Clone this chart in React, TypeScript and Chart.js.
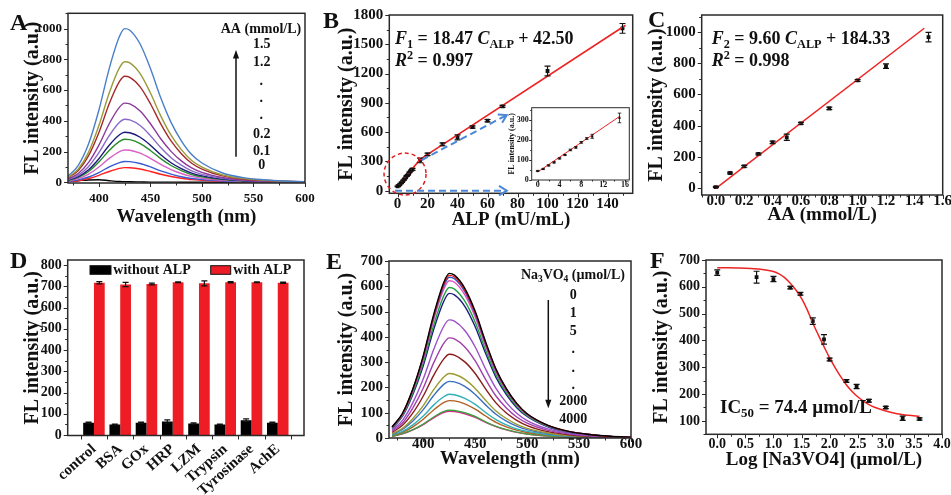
import React, { useEffect, useRef } from 'react';
import { Chart, registerables } from 'chart.js';

Chart.register(...registerables);

const SERIF = '"Liberation Serif", "Times New Roman", serif';

// ---------------- Panel A : emission spectra vs AA ----------------
const wavelengths = [370, 380, 390, 400, 410, 420, 425, 430, 440, 450, 460, 470, 480, 490, 500, 520, 540, 560, 580, 600];
const aaLegendValues = ['1.5', '1.2', '0.2', '0.1', '0'];
const aaColors = ['#4a7fc8', '#9a9a3a', '#a52a2a', '#8b3a9b', '#8a6ac8', '#1a1a7a', '#2a8a2a', '#d860c8', '#3a5ad0', '#ff2020', '#000000'];
const aaSpectra: number[][] = [
  [40, 110, 250, 470, 740, 950, 1000, 990, 900, 740, 550, 390, 270, 180, 125, 60, 30, 16, 8, 4],
  [31, 86, 196, 369, 581, 746, 785, 777, 707, 581, 432, 306, 212, 141, 98, 47, 24, 13, 6, 3],
  [28, 76, 173, 324, 511, 656, 690, 683, 621, 511, 380, 269, 186, 124, 86, 41, 21, 11, 6, 3],
  [21, 57, 129, 242, 381, 489, 515, 510, 464, 381, 283, 201, 139, 93, 64, 31, 15, 8, 4, 2],
  [16, 45, 103, 193, 303, 390, 410, 406, 369, 303, 226, 160, 111, 74, 51, 25, 12, 7, 3, 2],
  [13, 36, 81, 153, 241, 309, 325, 322, 293, 241, 179, 127, 88, 59, 41, 20, 10, 5, 3, 1],
  [11, 31, 70, 132, 207, 266, 280, 277, 252, 207, 154, 109, 76, 50, 35, 17, 8, 4, 2, 1],
  [8, 23, 53, 99, 155, 200, 210, 208, 189, 155, 116, 82, 57, 38, 26, 13, 6, 3, 2, 1],
  [5, 15, 34, 63, 100, 128, 135, 134, 122, 100, 74, 53, 36, 24, 17, 8, 4, 2, 1, 1],
  [4, 10, 24, 45, 70, 90, 95, 94, 86, 70, 52, 37, 26, 17, 12, 6, 3, 2, 1, 0],
  [5, 10, 15, 16, 10, 5, 4, 3, 2, 1, 1, 1, 0, 0, 0, 0, 0, 0, 0, 0],
];
const aYTicks = [0, 200, 400, 600, 800, 1000];
const aXTicks = [400, 450, 500, 550, 600];

// ---------------- Panel B : ALP calibration ----------------
const alpConc = [0, 1, 2, 3, 4, 5, 6, 7, 8, 9, 10, 15, 20, 30, 40, 50, 60, 70, 100, 150];
const alpFL = [45, 55, 73, 88, 108, 125, 150, 163, 188, 207, 218, 310, 372, 475, 546, 652, 717, 864, 1226, 1663];
const alpErr = [3, 3, 3, 3, 3, 3, 4, 4, 4, 4, 10, 24, 12, 15, 25, 12, 12, 10, 50, 50];
const alpFitX = [0, 15, 152];
const alpFitY = [40, 320, 1695];
const alpInsetFitX = [0, 15];
const alpInsetFitY = [40, 317];
const bYTicks = [0, 300, 600, 900, 1200, 1500, 1800];
const bXTicks = [0, 20, 40, 60, 80, 100, 120, 140];
const insetYTicks = [0, 100, 200, 300];
const insetXTicks = [0, 4, 8, 12, 16];

// ---------------- Panel C : AA calibration ----------------
const aaConc = [0, 0.1, 0.2, 0.3, 0.4, 0.5, 0.6, 0.8, 1.0, 1.2, 1.5];
const aaFL = [6, 96, 139, 218, 293, 325, 415, 511, 690, 782, 968];
const aaErr = [4, 6, 6, 6, 8, 20, 6, 8, 6, 15, 30];
const aaFitX = [0, 1.47];
const aaFitY = [-3, 1025];
const cYTicks = [0, 200, 400, 600, 800, 1000];
const cXTicks = [0, 0.2, 0.4, 0.6, 0.8, 1.0, 1.2, 1.4, 1.6];

// ---------------- Panel D : selectivity ----------------
const dCategories = ['control', 'BSA', 'GOx', 'HRP', 'LZM', 'Trypsin', 'Tyrosinase', 'AchE'];
const dWithout = [58, 50, 58, 64, 55, 50, 70, 58];
const dWithoutErr = [3, 2, 3, 8, 3, 2, 6, 3];
const dWith = [717, 709, 711, 719, 714, 719, 719, 717];
const dWithErr = [5, 10, 4, 2, 12, 3, 2, 3];
const dYTicks = [0, 100, 200, 300, 400, 500, 600, 700, 800];

// ---------------- Panel E : spectra vs Na3VO4 ----------------
const naLegendValues = ['0', '1', '5', '2000', '4000'];
const naColors = ['#000000', '#e41a1c', '#3050c0', '#e050c0', '#20a040', '#1c1c80', '#9a50c8', '#a040a8', '#8b1a1a', '#9a9a30', '#3a70c0', '#30b0b8', '#b06020', '#40a040', '#e02090'];
const naSpectra: number[][] = [
  [44, 98, 195, 326, 488, 618, 651, 644, 592, 501, 381, 273, 195, 137, 96, 50, 26, 14, 7, 3],
  [43, 96, 193, 322, 482, 611, 643, 637, 585, 495, 376, 270, 193, 135, 95, 50, 26, 14, 6, 3],
  [43, 95, 191, 318, 477, 604, 636, 630, 579, 490, 372, 267, 191, 134, 94, 49, 25, 14, 6, 3],
  [42, 93, 187, 311, 467, 591, 622, 616, 566, 479, 364, 261, 187, 131, 92, 48, 25, 14, 6, 3],
  [40, 89, 179, 298, 446, 565, 595, 589, 541, 458, 348, 250, 179, 125, 88, 46, 24, 13, 6, 3],
  [38, 86, 172, 286, 429, 543, 572, 566, 521, 440, 335, 240, 172, 120, 85, 44, 23, 13, 6, 3],
  [31, 70, 140, 234, 350, 444, 467, 462, 425, 360, 273, 196, 140, 98, 69, 36, 19, 10, 5, 2],
  [27, 59, 119, 198, 297, 376, 396, 392, 360, 305, 232, 166, 119, 83, 59, 30, 16, 9, 4, 2],
  [22, 50, 99, 166, 248, 314, 331, 328, 301, 255, 194, 139, 99, 70, 49, 25, 13, 7, 3, 2],
  [17, 38, 77, 128, 191, 242, 255, 252, 232, 196, 149, 107, 77, 54, 38, 20, 10, 6, 3, 1],
  [15, 34, 67, 112, 168, 213, 224, 222, 204, 172, 131, 94, 67, 47, 33, 17, 9, 5, 2, 1],
  [12, 26, 52, 87, 130, 164, 173, 171, 157, 133, 101, 73, 52, 36, 26, 13, 7, 4, 2, 1],
  [10, 22, 44, 74, 111, 141, 148, 147, 135, 114, 87, 62, 44, 31, 22, 11, 6, 3, 1, 1],
  [7, 17, 33, 55, 83, 105, 110, 109, 100, 85, 64, 46, 33, 23, 16, 8, 4, 2, 1, 1],
  [7, 16, 32, 53, 80, 101, 106, 105, 96, 82, 62, 45, 32, 22, 16, 8, 4, 2, 1, 1],
];
const eYTicks = [0, 100, 200, 300, 400, 500, 600, 700];
const eXTicks = [400, 450, 500, 550, 600];

// ---------------- Panel F : inhibition ----------------
const logNa = [0, 0.7, 1.0, 1.3, 1.48, 1.7, 1.9, 2.0, 2.3, 2.48, 2.7, 3.0, 3.3, 3.6];
const naFL = [653, 636, 629, 597, 574, 472, 404, 329, 249, 228, 175, 150, 110, 107];
const naErr = [10, 22, 10, 5, 5, 12, 18, 5, 5, 8, 5, 4, 8, 4];
const fitLogX = [0, 0.2, 0.4, 0.6, 0.8, 1.0, 1.1, 1.2, 1.3, 1.4, 1.5, 1.6, 1.7, 1.8, 1.9, 2.0, 2.1, 2.2, 2.3, 2.4, 2.5, 2.6, 2.7, 2.8, 3.0, 3.2, 3.4, 3.6];
const fitLogY = [671, 671, 670, 668, 665, 657, 648, 634, 613, 588, 557, 515, 465, 420, 377, 335, 298, 264, 234, 210, 190, 174, 161, 151, 137, 127, 121, 117];
const fYTicks = [100, 200, 300, 400, 500, 600, 700];
const fXTicks = [0, 0.5, 1.0, 1.5, 2.0, 2.5, 3.0, 3.5, 4.0];

// ---------------- helpers ----------------
const xy = (xs: number[], ys: number[]) => xs.map((x, i) => ({ x, y: ys[i] }));

type Run = { t: string; it?: boolean; sub?: boolean; sup?: boolean };

interface AxisSpec {
  min?: number; max?: number;
  ticks?: number[];
  minor?: number;
  fmt?: (v: number) => string;
  size: number;
  pad: number;
  title?: string;
  titleSize?: number;
  titleC?: number;
  category?: boolean;
  rot?: number;
}

interface Note {
  kind: 'text' | 'arrow' | 'ellipse' | 'rect';
  space: 'area' | 'canvas' | 'data';
  x?: number; y?: number; x2?: number; y2?: number;
  w?: number; h?: number;
  runs?: Run[]; size?: number; align?: 'left' | 'center' | 'right';
  color?: string; width?: number; dash?: number[]; head?: 'fill' | 'open';
}

interface PanelSpec {
  key: string;
  box: { x: number; y: number; w: number; h: number };
  area: { l: number; t: number; r: number; b: number };
  type: 'line' | 'scatter' | 'bar';
  labels?: string[];
  datasets: any[];
  x: AxisSpec; y: AxisSpec;
  notes: Note[];
  errors?: { ds: number; err: (number | null)[]; cap: number; width: number }[];
  xMarks?: { v: number; major: boolean }[];
  white?: boolean;
  frameW: number;
  tick: [number, number];
}

const T = (t: string, extra: Partial<Run> = {}): Run => ({ t, ...extra });

function fontStr(size: number, italic?: boolean) {
  return `${italic ? 'italic ' : ''}bold ${size}px ${SERIF}`;
}

function drawRuns(ctx: CanvasRenderingContext2D, runs: Run[], x: number, y: number, size: number, align: string, color: string) {
  const sizes = runs.map(r => (r.sub || r.sup ? size * 0.68 : size));
  const widths = runs.map((r, i) => { ctx.font = fontStr(sizes[i], r.it); return ctx.measureText(r.t).width; });
  const total = widths.reduce((a, b) => a + b, 0);
  let cx = align === 'center' ? x - total / 2 : align === 'right' ? x - total : x;
  ctx.fillStyle = color;
  ctx.textBaseline = 'middle';
  ctx.textAlign = 'left';
  runs.forEach((r, i) => {
    ctx.font = fontStr(sizes[i], r.it);
    const dy = r.sub ? size * 0.3 : r.sup ? -size * 0.3 : 0;
    ctx.fillText(r.t, cx, y + dy);
    cx += widths[i];
  });
}

function drawArrow(ctx: CanvasRenderingContext2D, x1: number, y1: number, x2: number, y2: number, color: string, width: number, dash: number[] | undefined, head: string) {
  ctx.save();
  ctx.strokeStyle = color; ctx.fillStyle = color; ctx.lineWidth = width;
  const ang = Math.atan2(y2 - y1, x2 - x1);
  const hl = 9;
  const ex = head === 'fill' ? x2 - Math.cos(ang) * hl * 0.8 : x2;
  const ey = head === 'fill' ? y2 - Math.sin(ang) * hl * 0.8 : y2;
  ctx.setLineDash(dash || []);
  ctx.beginPath(); ctx.moveTo(x1, y1); ctx.lineTo(ex, ey); ctx.stroke();
  ctx.setLineDash([]);
  if (head === 'fill') {
    ctx.beginPath();
    ctx.moveTo(x2, y2);
    ctx.lineTo(x2 - Math.cos(ang - 0.35) * hl, y2 - Math.sin(ang - 0.35) * hl);
    ctx.lineTo(x2 - Math.cos(ang + 0.35) * hl, y2 - Math.sin(ang + 0.35) * hl);
    ctx.closePath(); ctx.fill();
  } else {
    ctx.beginPath();
    ctx.moveTo(x2 - Math.cos(ang - 0.55) * hl, y2 - Math.sin(ang - 0.55) * hl);
    ctx.lineTo(x2, y2);
    ctx.lineTo(x2 - Math.cos(ang + 0.55) * hl, y2 - Math.sin(ang + 0.55) * hl);
    ctx.stroke();
  }
  ctx.restore();
}

function axisMarks(ax: AxisSpec) {
  const out: { v: number; major: boolean }[] = [];
  if (!ax.minor || ax.min === undefined || ax.max === undefined) return out;
  const step = ax.minor;
  const start = Math.ceil(ax.min / step - 1e-9);
  const end = Math.floor(ax.max / step + 1e-9);
  for (let k = start; k <= end; k++) {
    const v = k * step;
    const major = (ax.ticks || []).some(t => Math.abs(t - v) < step * 1e-3);
    out.push({ v, major });
  }
  return out;
}

function axisOptions(ax: AxisSpec, isX: boolean, p: PanelSpec) {
  const { box, area } = p;
  const o: any = {
    type: ax.category ? 'category' : 'linear',
    offset: false,
    grid: { display: false, drawTicks: false },
    border: { display: false },
    ticks: {
      color: '#111',
      font: { family: SERIF, weight: 'bold', size: ax.size },
      padding: ax.pad,
      autoSkip: false,
      maxRotation: ax.rot || 0,
      minRotation: ax.rot || 0,
    },
    afterFit: (s: any) => {
      if (isX) s.height = box.y + box.h - area.b;
      else s.width = area.l - box.x;
      s.paddingLeft = 0; s.paddingRight = 0; s.paddingTop = 0; s.paddingBottom = 0;
    },
  };
  if (!ax.category) {
    o.min = ax.min; o.max = ax.max;
    const vals = ax.ticks || [];
    o.afterBuildTicks = (s: any) => { s.ticks = vals.map(v => ({ value: v })); };
    o.ticks.callback = (v: any) => (ax.fmt ? ax.fmt(Number(v)) : String(v));
  }
  if (ax.title) {
    const lh = (ax.titleSize || 18) * 1.2;
    const pad = isX ? { top: 0, bottom: box.y + box.h - (ax.titleC || 0) - lh / 2 } : { top: (ax.titleC || 0) - box.x - lh / 2, bottom: 0 };
    o.title = { display: true, text: ax.title, color: '#111', padding: pad, font: { family: SERIF, weight: 'bold', size: ax.titleSize } };
  } else {
    o.title = { display: false };
  }
  return o;
}

function buildConfig(p: PanelSpec): any {
  const { box, area } = p;
  const xMarks = p.xMarks || axisMarks(p.x);
  const yMarks = axisMarks(p.y);

  const bgPlugin = {
    id: 'bgfill',
    beforeDatasetsDraw(chart: any) {
      if (!p.white) return;
      const a = chart.chartArea;
      chart.ctx.save();
      chart.ctx.fillStyle = '#ffffff';
      chart.ctx.fillRect(a.left, a.top, a.right - a.left, a.bottom - a.top);
      chart.ctx.restore();
    },
  };

  const errPlugin = {
    id: 'errbars',
    afterDatasetsDraw(chart: any) {
      const ctx = chart.ctx as CanvasRenderingContext2D;
      const ys = chart.scales.y;
      (p.errors || []).forEach(e => {
        const meta = chart.getDatasetMeta(e.ds);
        const raw = chart.data.datasets[e.ds].data as any[];
        meta.data.forEach((el: any, j: number) => {
          const err = e.err[j];
          const r = raw[j];
          const v = typeof r === 'number' ? r : r && r.y;
          if (!err || v === null || v === undefined) return;
          const x = el.x;
          const y1 = ys.getPixelForValue(v + err);
          const y2 = ys.getPixelForValue(v - err);
          ctx.save();
          ctx.strokeStyle = '#111'; ctx.lineWidth = e.width;
          ctx.beginPath();
          ctx.moveTo(x, y1); ctx.lineTo(x, y2);
          ctx.moveTo(x - e.cap, y1); ctx.lineTo(x + e.cap, y1);
          ctx.moveTo(x - e.cap, y2); ctx.lineTo(x + e.cap, y2);
          ctx.stroke();
          ctx.restore();
        });
      });
    },
  };

  const framePlugin = {
    id: 'frame',
    afterDraw(chart: any) {
      const ctx = chart.ctx as CanvasRenderingContext2D;
      const a = chart.chartArea;
      const xs = chart.scales.x, ys = chart.scales.y;
      ctx.save();
      ctx.strokeStyle = '#2a2a2a';
      ctx.lineWidth = 1;
      ctx.beginPath();
      xMarks.forEach(m => {
        const px = Math.round(xs.getPixelForValue(m.v)) + 0.5;
        ctx.moveTo(px, a.bottom); ctx.lineTo(px, a.bottom + (m.major ? p.tick[0] : p.tick[1]));
      });
      yMarks.forEach(m => {
        const py = Math.round(ys.getPixelForValue(m.v)) + 0.5;
        ctx.moveTo(a.left, py); ctx.lineTo(a.left - (m.major ? p.tick[0] : p.tick[1]), py);
      });
      ctx.stroke();
      ctx.lineWidth = p.frameW;
      ctx.strokeRect(a.left, a.top, a.right - a.left, a.bottom - a.top);
      ctx.restore();
    },
  };

  const notesPlugin = {
    id: 'notes',
    afterDraw(chart: any) {
      const ctx = chart.ctx as CanvasRenderingContext2D;
      const a = chart.chartArea;
      const sc = chart.scales;
      const pt = (space: string, x: number, y: number): [number, number] =>
        space === 'data' ? [sc.x.getPixelForValue(x), sc.y.getPixelForValue(y)]
          : space === 'area' ? [a.left + x, a.top + y] : [x, y];
      p.notes.forEach(n => {
        ctx.save();
        if (n.kind === 'text') {
          const [px, py] = pt(n.space, n.x || 0, n.y || 0);
          drawRuns(ctx, n.runs || [], px, py, n.size || 14, n.align || 'left', n.color || '#111');
        } else if (n.kind === 'arrow') {
          const [x1, y1] = pt(n.space, n.x || 0, n.y || 0);
          const [x2, y2] = pt(n.space, n.x2 || 0, n.y2 || 0);
          drawArrow(ctx, x1, y1, x2, y2, n.color || '#111', n.width || 1.5, n.dash, n.head || 'fill');
        } else if (n.kind === 'ellipse') {
          const [cx, cy] = pt(n.space, n.x || 0, n.y || 0);
          const [ex, ey] = pt(n.space, (n.x || 0) + (n.w || 0), (n.y || 0) + (n.h || 0));
          ctx.strokeStyle = n.color || '#e02020'; ctx.lineWidth = n.width || 1.5;
          ctx.setLineDash(n.dash || []);
          ctx.beginPath();
          ctx.ellipse(cx, cy, Math.abs(ex - cx), Math.abs(ey - cy), 0, 0, Math.PI * 2);
          ctx.stroke();
        } else if (n.kind === 'rect') {
          const [x1, y1] = pt(n.space, n.x || 0, n.y || 0);
          ctx.fillStyle = n.color || '#000';
          ctx.fillRect(x1, y1, n.w || 0, n.h || 0);
          ctx.strokeStyle = '#111'; ctx.lineWidth = 1;
          ctx.strokeRect(x1, y1, n.w || 0, n.h || 0);
        }
        ctx.restore();
      });
    },
  };

  return {
    type: p.type,
    data: { labels: p.labels, datasets: p.datasets },
    options: {
      responsive: false,
      maintainAspectRatio: false,
      animation: false,
      devicePixelRatio: 1,
      events: [],
      layout: {
        autoPadding: false,
        padding: { left: 0, bottom: 0, top: area.t - box.y, right: box.x + box.w - area.r },
      },
      plugins: { legend: { display: false }, tooltip: { enabled: false } },
      scales: { x: axisOptions(p.x, true, p), y: axisOptions(p.y, false, p) },
    },
    plugins: [bgPlugin, errPlugin, framePlugin, notesPlugin],
  };
}

const spectrumSets = (curves: number[][], colors: string[]) =>
  curves.map((c, i) => ({
    data: xy(wavelengths, c),
    borderColor: colors[i],
    borderWidth: 1.4,
    pointRadius: 0,
    fill: false,
    cubicInterpolationMode: 'monotone',
  }));

const pointSet = (xs: number[], ys: number[], r: number) => ({
  data: xy(xs, ys),
  showLine: false,
  pointStyle: 'rect',
  pointRadius: r,
  backgroundColor: '#111',
  borderColor: '#111',
  borderWidth: 0,
});

const fitSet = (xs: number[], ys: number[], w: number, smooth = false) => ({
  data: xy(xs, ys),
  showLine: true,
  borderColor: '#ee2424',
  borderWidth: w,
  pointRadius: 0,
  fill: false,
  cubicInterpolationMode: smooth ? 'monotone' : 'default',
});

const letter = (t: string, x: number, y: number): Note => ({ kind: 'text', space: 'canvas', x, y, runs: [T(t)], size: 24 });
const txt = (t: string, x: number, y: number, size = 14, align: 'left' | 'center' = 'center'): Note => ({ kind: 'text', space: 'area', x, y, runs: [T(t)], size, align });

const fmt1 = (v: number) => v.toFixed(1);

const PANELS: PanelSpec[] = [
  // ---- A ----
  {
    key: 'A', type: 'line', frameW: 1.5, tick: [4, 2.5],
    box: { x: 0, y: 0, w: 318, h: 245 },
    area: { l: 68, t: 13.3, r: 305, b: 183 },
    datasets: spectrumSets(aaSpectra, aaColors),
    x: { min: 370, max: 600, ticks: aXTicks, minor: 25, size: 13, pad: 8, title: 'Wavelength (nm)', titleSize: 19, titleC: 216.7 },
    y: { min: -5, max: 1100, ticks: aYTicks, minor: 100, size: 13, pad: 6, title: 'FL intensity (a.u.)', titleSize: 20, titleC: 33.3 },
    notes: [
      letter('A', 10, 23.3),
      txt('AA (mmol/L)', 193, 16),
      txt(aaLegendValues[0], 193.7, 31),
      txt(aaLegendValues[1], 193.7, 49.4),
      txt('.', 193.2, 68),
      txt('.', 193.2, 84.7),
      txt('.', 193.2, 102),
      txt(aaLegendValues[2], 193.7, 121),
      txt(aaLegendValues[3], 193.7, 138.4),
      txt(aaLegendValues[4], 193.7, 152.4),
      { kind: 'arrow', space: 'area', x: 168, y: 143.4, x2: 168, y2: 36.7, color: '#111', width: 1.5, head: 'fill' },
    ],
  },
  // ---- B ----
  {
    key: 'B', type: 'scatter', frameW: 1.5, tick: [4, 2.5],
    box: { x: 318, y: 0, w: 320, h: 245 },
    area: { l: 389.3, t: 15, r: 632.7, b: 193.3 },
    datasets: [fitSet(alpFitX, alpFitY, 1.6), pointSet(alpConc, alpFL, 2.7)],
    errors: [{ ds: 1, err: alpErr, cap: 3, width: 1.2 }],
    x: { min: -5.5, max: 156.8, ticks: bXTicks, minor: 10, size: 15, pad: 2, title: 'ALP (mU/mL)', titleSize: 19, titleC: 220 },
    y: { min: -27, max: 1800, ticks: bYTicks, minor: 150, size: 15, pad: 6, title: 'FL intensity (a.u.)', titleSize: 20, titleC: 346.7 },
    notes: [
      letter('B', 5, 21.7),
      { kind: 'text', space: 'area', x: 5.7, y: 24.3, size: 18, align: 'left', runs: [T('F', { it: true }), T('1', { sub: true }), T(' = 18.47 '), T('C', { it: true }), T('ALP', { sub: true }), T(' + 42.50')] },
      { kind: 'text', space: 'area', x: 5.7, y: 46.7, size: 18, align: 'left', runs: [T('R', { it: true }), T('2', { sup: true }), T(' = 0.997')] },
      { kind: 'ellipse', space: 'data', x: 5, y: 170, w: 14, h: 215, color: '#e02020', width: 1.5, dash: [4, 3] },
      { kind: 'arrow', space: 'data', x: 16.1, y: 314, x2: 72.8, y2: 775, color: '#4a86d8', width: 2, dash: [7, 4], head: 'open' },
      { kind: 'arrow', space: 'data', x: -1.7, y: 0, x2: 72.8, y2: 0, color: '#4a86d8', width: 2, dash: [7, 4], head: 'open' },
    ],
  },
  // ---- B inset ----
  {
    key: 'Binset', type: 'scatter', frameW: 1, tick: [2.5, 1.5], white: true,
    box: { x: 490, y: 95, w: 145, h: 100 },
    area: { l: 531.7, t: 107.7, r: 629.3, b: 180 },
    datasets: [fitSet(alpInsetFitX, alpInsetFitY, 1), pointSet(alpConc.slice(0, 12), alpFL.slice(0, 12), 1.5)],
    errors: [{ ds: 1, err: alpErr.slice(0, 12), cap: 1.8, width: 0.8 }],
    x: { min: -1.1, max: 16.8, ticks: insetXTicks, minor: 2, size: 8, pad: 0.5 },
    y: { min: 0, max: 361, ticks: insetYTicks, minor: 50, size: 8, pad: 3, title: 'FL intensity (a.u.)', titleSize: 8, titleC: 511.7 },
    notes: [],
  },
  // ---- C ----
  {
    key: 'C', type: 'scatter', frameW: 1.5, tick: [4, 2.5],
    box: { x: 638, y: 0, w: 313, h: 245 },
    area: { l: 701.7, t: 15, r: 942.7, b: 195 },
    datasets: [fitSet(aaFitX, aaFitY, 1.5), pointSet(aaConc, aaFL, 2.7)],
    errors: [{ ds: 1, err: aaErr, cap: 3, width: 1.2 }],
    x: { min: -0.1, max: 1.6, ticks: cXTicks, minor: 0.1, size: 15, pad: -3, fmt: fmt1, title: 'AA (mmol/L)', titleSize: 19, titleC: 215 },
    y: { min: -45, max: 1110, ticks: cYTicks, minor: 100, size: 15, pad: 6, title: 'FL intensity (a.u.)', titleSize: 20, titleC: 656.7 },
    notes: [
      letter('C', 10, 20.7),
      { kind: 'text', space: 'area', x: 10, y: 24, size: 18, align: 'left', runs: [T('F', { it: true }), T('2', { sub: true }), T(' = 9.60 '), T('C', { it: true }), T('ALP', { sub: true }), T(' + 184.33')] },
      { kind: 'text', space: 'area', x: 10, y: 46.7, size: 18, align: 'left', runs: [T('R', { it: true }), T('2', { sup: true }), T(' = 0.998')] },
    ],
  },
  // ---- D ----
  {
    key: 'D', type: 'bar', frameW: 1.5, tick: [4, 2.5],
    box: { x: 0, y: 245, w: 318, h: 250 },
    area: { l: 67.7, t: 260, r: 304, b: 435.5 },
    labels: ['', ...dCategories, ''],
    datasets: [
      { label: 'without ALP', data: [null, ...dWithout, null], backgroundColor: '#000000', categoryPercentage: 0.82, barPercentage: 1 },
      { label: 'with ALP', data: [null, ...dWith, null], backgroundColor: '#ee1c25', categoryPercentage: 0.82, barPercentage: 1 },
    ],
    errors: [
      { ds: 0, err: [null, ...dWithoutErr, null], cap: 3, width: 1.2 },
      { ds: 1, err: [null, ...dWithErr, null], cap: 3, width: 1.2 },
    ],
    xMarks: dCategories.concat(['']).map((_, i) => ({ v: i + 0.5, major: true })),
    x: { category: true, size: 15, pad: 5, rot: 42 },
    y: { min: -2, max: 824, ticks: dYTicks, minor: 50, size: 14, pad: 6, title: 'FL intensity (a.u.)', titleSize: 20, titleC: 33.3 },
    notes: [
      letter('D', 10, 16.7),
      { kind: 'rect', space: 'area', x: 22.3, y: 5.7, w: 21, h: 8.6, color: '#000000' },
      txt('without ALP', 45.6, 10, 14, 'left'),
      { kind: 'rect', space: 'area', x: 143, y: 5.7, w: 20, h: 8.6, color: '#ee1c25' },
      txt('with ALP', 165.6, 10, 14, 'left'),
    ],
  },
  // ---- E ----
  {
    key: 'E', type: 'line', frameW: 1.5, tick: [4, 2.5],
    box: { x: 318, y: 245, w: 330, h: 250 },
    area: { l: 389, t: 261, r: 631, b: 438 },
    datasets: spectrumSets(naSpectra, naColors),
    x: { min: 367, max: 600, ticks: eXTicks, minor: 25, size: 15, pad: -3, title: 'Wavelength (nm)', titleSize: 19, titleC: 459 },
    y: { min: 0, max: 700, ticks: eYTicks, minor: 50, size: 15, pad: 6, title: 'FL intensity (a.u.)', titleSize: 20, titleC: 346.7 },
    notes: [
      letter('E', 8, 18),
      { kind: 'text', space: 'area', x: 184, y: 14, size: 14, align: 'center', runs: [T('Na'), T('3', { sub: true }), T('VO'), T('4', { sub: true }), T(' (µmol/L)')] },
      txt(naLegendValues[0], 184.3, 34.7),
      txt(naLegendValues[1], 184.3, 52),
      txt(naLegendValues[2], 184.3, 70),
      txt('.', 184.3, 88),
      txt('.', 184.3, 107),
      txt('.', 184.3, 124.7),
      txt(naLegendValues[3], 184.3, 140.7),
      txt(naLegendValues[4], 184.3, 158),
      { kind: 'arrow', space: 'area', x: 159.3, y: 39, x2: 159.3, y2: 147.3, color: '#111', width: 1.5, head: 'fill' },
    ],
  },
  // ---- F ----
  {
    key: 'F', type: 'scatter', frameW: 1.5, tick: [4, 2.5],
    box: { x: 638, y: 245, w: 313, h: 250 },
    area: { l: 706, t: 260, r: 942, b: 434.3 },
    datasets: [fitSet(fitLogX, fitLogY, 1.5, true), pointSet(logNa, naFL, 2.7)],
    errors: [{ ds: 1, err: naErr, cap: 3, width: 1.2 }],
    x: { min: -0.2, max: 4.0, ticks: fXTicks, minor: 0.25, size: 14, pad: 2, fmt: fmt1, title: 'Log [Na3VO4] (µmol/L)', titleSize: 19, titleC: 460 },
    y: { min: 50, max: 700, ticks: fYTicks, minor: 50, size: 14, pad: 6, title: 'FL intensity (a.u.)', titleSize: 20, titleC: 661.7 },
    notes: [
      letter('F', 12, 16.7),
      { kind: 'text', space: 'area', x: 14, y: 148, size: 19, align: 'left', runs: [T('IC'), T('50', { sub: true }), T(' = 74.4 µmol/L')] },
    ],
  },
];

export default function App() {
  const refs = useRef<(HTMLCanvasElement | null)[]>([]);
  useEffect(() => {
    const charts = PANELS.map((p, i) => new Chart(refs.current[i] as HTMLCanvasElement, buildConfig(p)));
    return () => charts.forEach(c => c.destroy());
  }, []);
  return (
    <div style={{ position: 'absolute', left: 0, top: 0, width: 951, height: 495, overflow: 'hidden', background: '#ffffff' }}>
      {PANELS.map((p, i) => (
        <canvas
          key={p.key}
          ref={el => { refs.current[i] = el; }}
          width={p.box.w}
          height={p.box.h}
          style={{ position: 'absolute', left: p.box.x, top: p.box.y, width: p.box.w, height: p.box.h }}
        />
      ))}
    </div>
  );
}
